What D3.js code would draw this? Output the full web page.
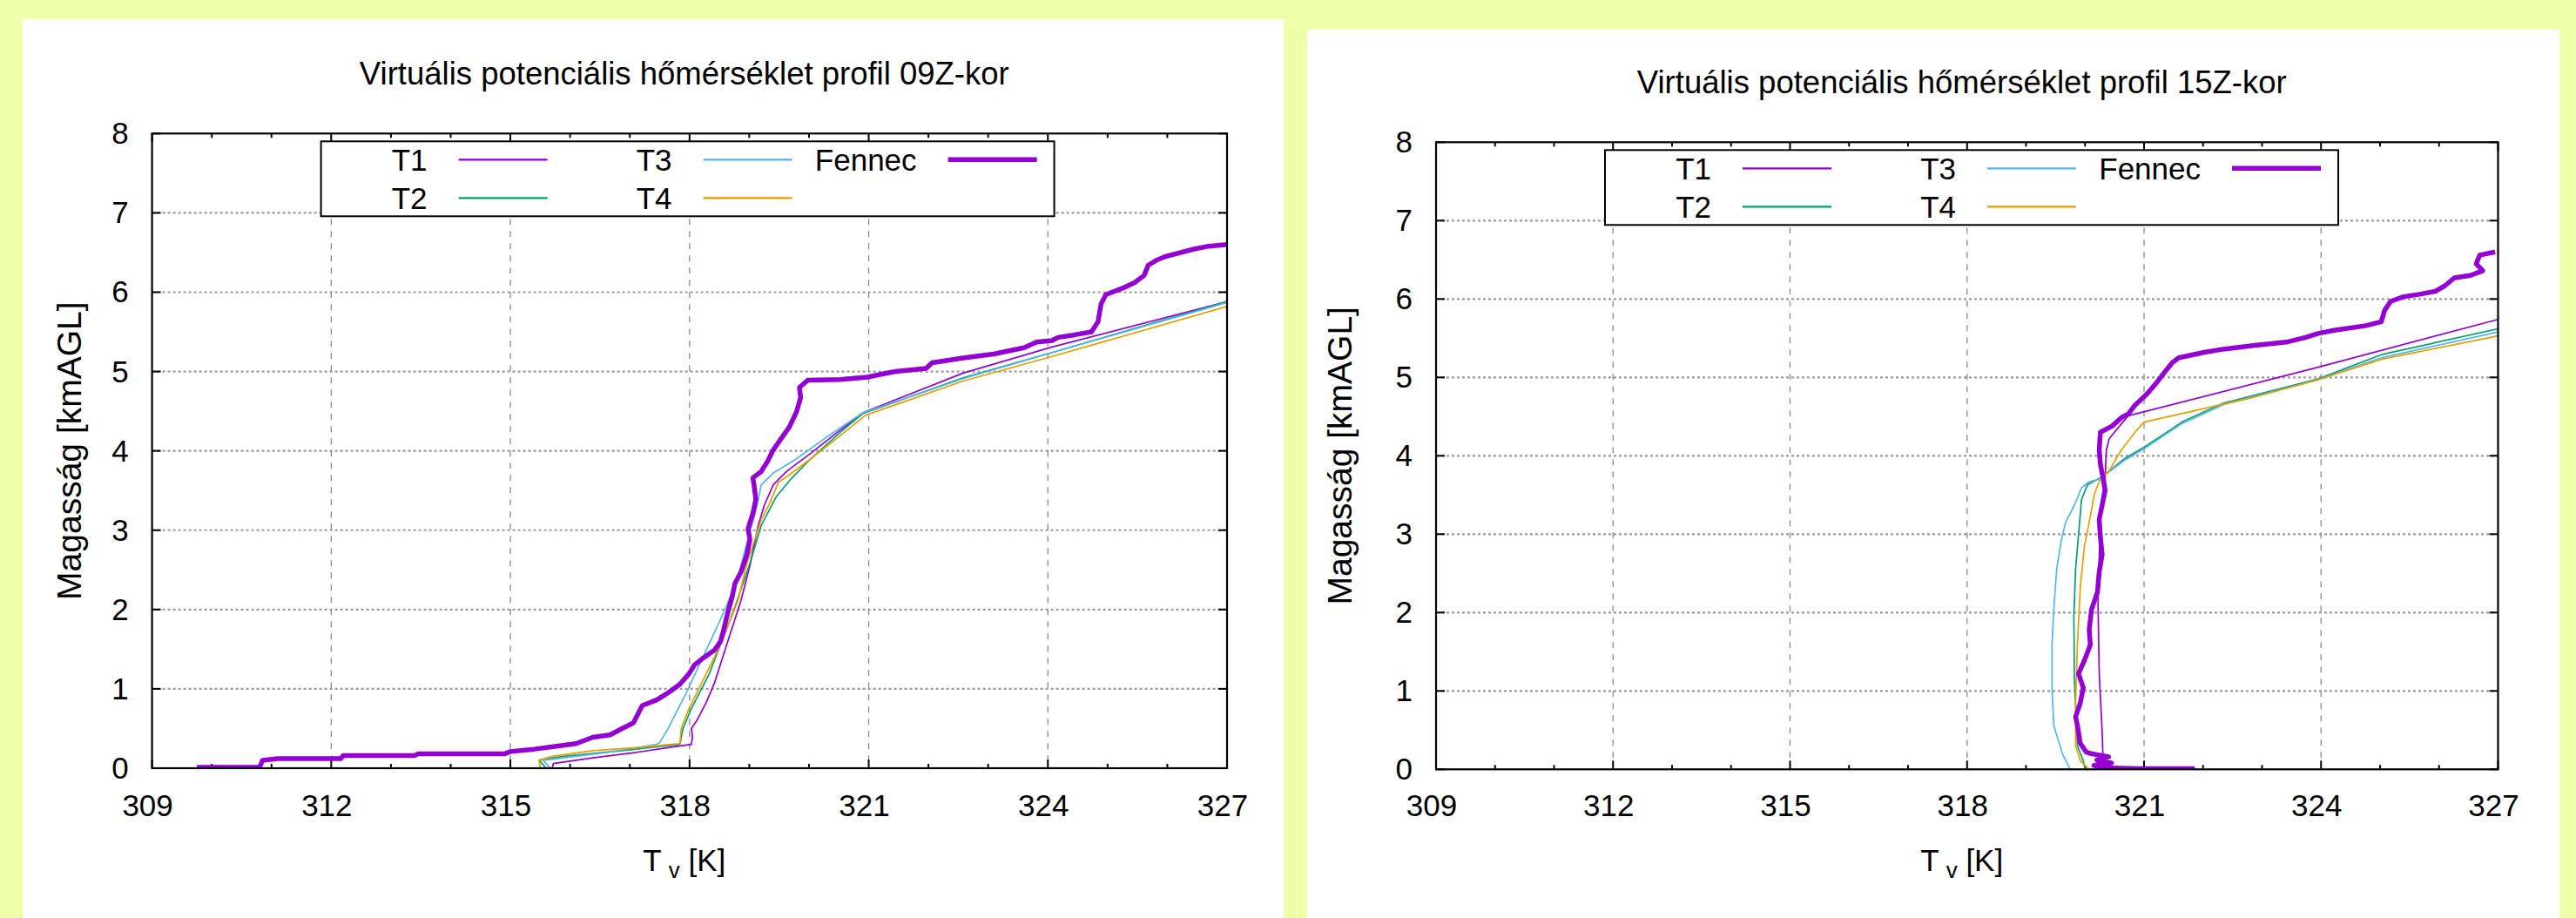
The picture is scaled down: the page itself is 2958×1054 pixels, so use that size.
<!DOCTYPE html>
<html><head><meta charset="utf-8">
<script src="https://cdn.jsdelivr.net/npm/d3@7"></script>
<style>html,body{margin:0;padding:0;background:#eeffaa;}svg{display:block;}</style>
</head><body>
<svg id="chart" width="2958" height="1054"></svg>
<script>
// ---------- data ----------
const tempTicks = [309, 312, 315, 318, 321, 324, 327];
const heightTicks = [0, 1, 2, 3, 4, 5, 6, 7, 8];
const seriesNames = ["T1", "T2", "T3", "T4", "Fennec"];
const titles = ["Virtuális potenciális hőmérséklet profil 09Z-kor",
                "Virtuális potenciális hőmérséklet profil 15Z-kor"];

// 09Z profiles [Tv (K), height (km AGL)]
const t1_09 = [[315.70,0],[315.72,0.06],[316.38,0.13],[317.11,0.20],[317.64,0.26],[318.03,0.30],[318.05,0.40],[318.03,0.50],[318.13,0.61],[318.28,0.83],[318.42,1.08],[318.67,1.67],[318.86,2.11],[319.01,2.55],[319.15,3.06],[319.25,3.31],[319.40,3.57],[319.49,3.64],[319.64,3.75],[320.03,3.97],[320.47,4.23],[320.93,4.49],[322.58,4.98],[324.07,5.31],[327.0,5.88]];
const t2_09 = [[315.60,0],[315.48,0.10],[315.89,0.15],[316.87,0.22],[317.84,0.30],[317.89,0.50],[318.03,0.75],[318.33,1.19],[318.76,2.03],[319.01,2.58],[319.20,3.06],[319.45,3.42],[319.69,3.64],[320.03,3.90],[320.52,4.23],[320.90,4.47],[322.58,4.92],[324.07,5.24],[327.0,5.88]];
const t3_09 = [[315.67,0],[315.55,0.10],[315.89,0.13],[316.62,0.20],[317.45,0.30],[317.50,0.32],[317.64,0.50],[317.94,0.94],[318.28,1.49],[318.57,1.96],[318.81,2.40],[318.96,2.84],[319.11,3.24],[319.20,3.57],[319.40,3.72],[319.79,3.90],[320.27,4.16],[320.90,4.48],[322.58,4.91],[324.07,5.24],[327.0,5.87]];
const t4_09 = [[315.50,0],[315.48,0.10],[315.70,0.15],[316.38,0.22],[317.11,0.26],[317.84,0.31],[317.86,0.50],[317.99,0.75],[318.28,1.19],[318.52,1.56],[318.81,2.11],[318.96,2.58],[319.20,3.13],[319.35,3.35],[319.49,3.61],[319.64,3.68],[320.03,3.90],[320.52,4.19],[320.95,4.45],[322.58,4.88],[324.07,5.19],[327.0,5.82]];
const fennec_09 = [[309.75,0.01],[310.8,0.01],[310.85,0.10],[311.1,0.12],[312.16,0.12],[312.2,0.16],[313.4,0.16],[313.45,0.18],[314.9,0.18],[315.0,0.21],[315.4,0.24],[315.8,0.28],[316.1,0.31],[316.38,0.39],[316.67,0.42],[316.87,0.50],[317.06,0.57],[317.16,0.72],[317.21,0.79],[317.45,0.86],[317.64,0.95],[317.84,1.06],[317.99,1.19],[318.08,1.30],[318.23,1.39],[318.42,1.49],[318.52,1.60],[318.57,1.74],[318.64,1.96],[318.72,2.18],[318.76,2.33],[318.86,2.47],[318.96,2.69],[319.01,2.88],[318.98,3.02],[319.06,3.21],[319.11,3.39],[319.08,3.57],[319.06,3.66],[319.20,3.74],[319.30,3.86],[319.40,4.01],[319.52,4.14],[319.67,4.30],[319.79,4.49],[319.86,4.67],[319.84,4.80],[319.98,4.89],[320.52,4.90],[320.98,4.93],[321.24,4.97],[321.45,5.00],[321.96,5.04],[322.06,5.11],[322.58,5.17],[323.09,5.22],[323.60,5.30],[323.81,5.37],[324.07,5.39],[324.17,5.43],[324.43,5.46],[324.73,5.50],[324.84,5.63],[324.89,5.85],[324.97,5.97],[325.25,6.05],[325.45,6.12],[325.61,6.21],[325.68,6.34],[325.81,6.40],[325.97,6.45],[326.17,6.49],[326.43,6.54],[326.69,6.58],[327.0,6.60]];

// 15Z profiles
const t1_15 = [[320.31,0],[320.29,0.48],[320.24,1.22],[320.22,2.11],[320.24,2.70],[320.27,3.37],[320.34,3.70],[320.36,4.07],[320.41,4.22],[320.73,4.51],[323.95,5.13],[327.0,5.74]];
const t2_15 = [[320.0,0],[319.97,0.11],[319.87,0.30],[319.82,1.15],[319.81,1.96],[319.84,2.56],[319.89,3.0],[319.94,3.44],[320.04,3.63],[320.31,3.74],[320.66,3.96],[321.0,4.11],[321.39,4.30],[321.64,4.43],[322.34,4.67],[323.95,4.98],[325.02,5.29],[327.0,5.62]];
const t3_15 = [[319.75,0],[319.62,0.19],[319.47,0.56],[319.44,1.04],[319.44,1.59],[319.47,2.04],[319.52,2.56],[319.60,2.93],[319.67,3.15],[319.82,3.37],[319.94,3.59],[320.07,3.67],[320.24,3.70],[320.66,3.94],[321.0,4.09],[321.64,4.41],[322.34,4.65],[323.95,4.97],[325.02,5.25],[327.0,5.58]];
const t4_15 = [[320.07,0],[319.92,0.11],[319.84,0.30],[319.84,0.85],[319.87,1.59],[319.92,2.33],[319.99,2.85],[320.07,3.15],[320.16,3.52],[320.24,3.67],[320.41,3.81],[320.61,4.07],[320.88,4.33],[321.0,4.43],[321.59,4.53],[322.88,4.75],[323.95,4.97],[325.02,5.23],[327.0,5.53]];
const fennec_15 = [[321.86,0.01],[320.9,0.01],[320.3,0.02],[320.15,0.05],[320.45,0.08],[320.2,0.12],[320.4,0.16],[320.1,0.2],[320.02,0.22],[319.92,0.33],[319.87,0.56],[319.84,0.67],[319.92,0.85],[319.97,1.04],[319.89,1.22],[320.0,1.41],[320.09,1.59],[320.07,1.78],[320.11,2.04],[320.21,2.26],[320.24,2.52],[320.29,2.74],[320.26,2.96],[320.24,3.19],[320.29,3.37],[320.34,3.56],[320.31,3.70],[320.26,3.89],[320.24,4.07],[320.26,4.30],[320.46,4.38],[320.62,4.49],[320.73,4.53],[320.84,4.64],[321.05,4.79],[321.21,4.93],[321.32,5.04],[321.48,5.19],[321.59,5.25],[322.02,5.32],[322.34,5.36],[322.88,5.41],[323.41,5.45],[323.74,5.51],[323.95,5.56],[324.22,5.60],[324.76,5.66],[325.02,5.71],[325.08,5.86],[325.18,5.97],[325.40,6.03],[325.67,6.06],[325.94,6.10],[326.10,6.17],[326.26,6.27],[326.53,6.30],[326.74,6.36],[326.63,6.45],[326.69,6.56],[326.95,6.60]];

// ---------- styles ----------
const colors = {T1:"#9400d3", T2:"#009e73", T3:"#56b4e9", T4:"#e69f00", Fennec:"#9400d3"};
const widths = {T1:1.7, T2:1.7, T3:1.7, T4:1.7, Fennec:5.5};
const FONT = "'Liberation Sans', Arial, Helvetica, sans-serif";
const FS = 35;

const panels = [
  {bg:[26,22,1448,1040], box:{x0:174.6,x1:1409,y0:153.3,y1:882}, yLabelX:79, title:titles[0],
   data:{T1:t1_09,T2:t2_09,T3:t3_09,T4:t4_09,Fennec:fennec_09}},
  {bg:[1501,34,1438,1030], box:{x0:1649,x1:2868.5,y0:163.3,y1:883.3}, yLabelX:1538, title:titles[1],
   data:{T1:t1_15,T2:t2_15,T3:t3_15,T4:t4_15,Fennec:fennec_15}}
];

const svg = d3.select("#chart");
svg.append("rect").attr("width",2958).attr("height",1054).attr("fill","#eeffaa");

panels.forEach((p,pi)=>{
  const g = svg.append("g");
  g.append("rect").attr("x",p.bg[0]).attr("y",p.bg[1]).attr("width",p.bg[2]).attr("height",p.bg[3]).attr("fill","#fff");
  const b = p.box;
  const x = d3.scaleLinear().domain([309,327]).range([b.x0,b.x1]);
  const y = d3.scaleLinear().domain([0,8]).range([b.y1,b.y0]);
  const cx = (b.x0+b.x1)/2;

  // grid
  g.append("g").selectAll("line").data(heightTicks.slice(1,-1)).join("line")
    .attr("x1",b.x0).attr("x2",b.x1).attr("y1",d=>y(d)).attr("y2",d=>y(d))
    .attr("stroke","#9a9a9a").attr("stroke-width",2.2).attr("stroke-dasharray","3,3");
  g.append("g").selectAll("line").data(tempTicks.slice(1,-1)).join("line")
    .attr("x1",d=>x(d)).attr("x2",d=>x(d)).attr("y1",b.y0).attr("y2",b.y1)
    .attr("stroke","#8a8a8a").attr("stroke-width",1.3).attr("stroke-dasharray","7,7");

  // ticks
  const minor = d3.range(309,328,1);
  const tk = g.append("g").attr("stroke","#000").attr("stroke-width",2);
  minor.forEach(t=>{
    const len = (t-309)%3===0 ? 10 : 5;
    tk.append("line").attr("x1",x(t)).attr("x2",x(t)).attr("y1",b.y1).attr("y2",b.y1-len);
    tk.append("line").attr("x1",x(t)).attr("x2",x(t)).attr("y1",b.y0).attr("y2",b.y0+len);
  });
  heightTicks.forEach(h=>{
    tk.append("line").attr("x1",b.x0).attr("x2",b.x0+10).attr("y1",y(h)).attr("y2",y(h));
    tk.append("line").attr("x1",b.x1).attr("x2",b.x1-10).attr("y1",y(h)).attr("y2",y(h));
  });

  // tick labels
  g.append("g").selectAll("text").data(tempTicks).join("text")
    .attr("x",d=>x(d)-5).attr("y",937).attr("text-anchor","middle")
    .attr("font-family",FONT).attr("font-size",FS).attr("fill","#000").text(d=>d);
  g.append("g").selectAll("text").data(heightTicks).join("text")
    .attr("x",b.x0-27).attr("y",d=>y(d)+12).attr("text-anchor","end")
    .attr("font-family",FONT).attr("font-size",FS).attr("fill","#000").text(d=>d);

  // titles & axis labels
  g.append("text").attr("x",cx-6).attr("y",b.y0-56).attr("text-anchor","middle")
    .attr("font-family",FONT).attr("font-size",36.5).text(p.title);
  const xl = g.append("text").attr("x",cx-6).attr("y",1000).attr("text-anchor","middle")
    .attr("font-family",FONT).attr("font-size",FS);
  xl.append("tspan").text("T");
  xl.append("tspan").attr("dx",8).attr("dy",8).attr("font-size",26).text("v");
  xl.append("tspan").attr("dy",-8).text(" [K]");
  g.append("text").attr("transform",`translate(${p.yLabelX},${(b.y0+b.y1)/2}) rotate(-90)`)
    .attr("text-anchor","middle").attr("dy","0.35em")
    .attr("font-family",FONT).attr("font-size",39).text("Magasság [kmAGL]");

  // lines
  const clipId = "clip"+pi;
  g.append("clipPath").attr("id",clipId).append("rect")
    .attr("x",b.x0).attr("y",b.y0).attr("width",b.x1-b.x0).attr("height",b.y1-b.y0);
  const line = d3.line().x(d=>x(d[0])).y(d=>y(d[1]));
  const lg = g.append("g").attr("clip-path",`url(#${clipId})`);
  ["T1","T2","T3","T4","Fennec"].forEach(s=>{
    lg.append("path").datum(p.data[s]).attr("d",line).attr("fill","none")
      .attr("stroke",colors[s]).attr("stroke-width",widths[s]).attr("stroke-linejoin","round");
  });

  // legend
  const lx = b.x0+194, ly = b.y0+9;
  const leg = g.append("g");
  leg.append("rect").attr("x",lx).attr("y",ly).attr("width",842).attr("height",86)
    .attr("fill","#fff").attr("stroke","#000").attr("stroke-width",2);
  seriesNames.forEach((s,i)=>{
    const col = Math.floor(i/2), row = i%2;
    const ty = ly + 21 + row*44;
    leg.append("text").attr("x",lx+122+col*281).attr("y",ty).attr("dy","0.35em")
      .attr("text-anchor","end").attr("font-family",FONT).attr("font-size",FS).text(s);
    leg.append("line").attr("x1",lx+158+col*281).attr("x2",lx+260+col*281).attr("y1",ty).attr("y2",ty)
      .attr("stroke",colors[s]).attr("stroke-width",s==="Fennec"?5.5:2.2);
  });

  // frame
  g.append("rect").attr("x",b.x0).attr("y",b.y0).attr("width",b.x1-b.x0).attr("height",b.y1-b.y0)
    .attr("fill","none").attr("stroke","#000").attr("stroke-width",2.2);
});
</script>
</body></html>
